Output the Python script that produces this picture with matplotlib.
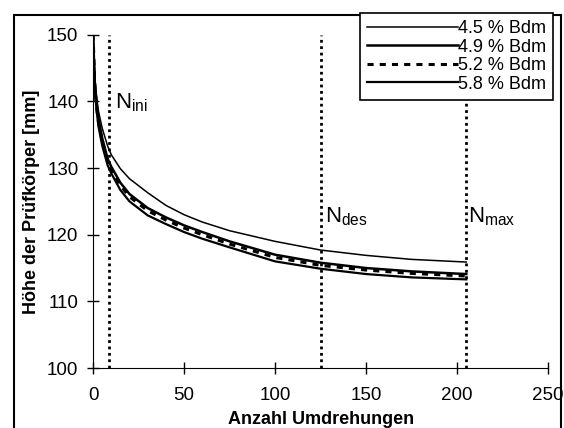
import matplotlib
matplotlib.use("Agg")
import matplotlib.pyplot as plt
from matplotlib.patches import Rectangle

plt.rcParams['font.family'] = ['Liberation Sans', 'DejaVu Sans']
plt.rcParams['mathtext.fontset'] = 'custom'
plt.rcParams['mathtext.rm'] = 'Liberation Sans'
plt.rcParams['mathtext.it'] = 'Liberation Sans'

# gyrations and specimen height per binder content
gyrations = [0, 1, 2, 3, 5, 8, 10, 15, 20, 30, 40, 50, 60, 75, 100, 125, 150, 175, 205]
h_45 = [150, 143.5, 140.5, 138.5, 136, 133.3, 132, 129.9, 128.4, 126.3, 124.4, 123.0,
        121.9, 120.6, 119.0, 117.7, 116.9, 116.3, 115.9]
h_49 = [150, 142.5, 139.5, 137.3, 134.5, 131.4, 130.2, 127.8, 126.1, 124.0, 122.6, 121.4,
        120.4, 119.0, 117.0, 115.8, 115.0, 114.5, 114.1]
h_52 = [150, 142, 139, 136.8, 134.1, 131.0, 129.8, 127.4, 125.7, 123.6, 122.2, 121.0,
        120.0, 118.6, 116.6, 115.4, 114.7, 114.2, 113.8]
h_58 = [150, 141.5, 138.5, 136.2, 133.4, 130.4, 129.2, 126.7, 125.0, 122.9, 121.6, 120.4,
        119.4, 118.1, 116.0, 114.9, 114.1, 113.6, 113.3]

n_ini, n_des, n_max = 9, 125, 205
x_ticks = [0, 50, 100, 150, 200, 250]
y_ticks = [100, 110, 120, 130, 140, 150]

fig = plt.figure(figsize=(5.64, 4.28), dpi=100)
ax = fig.add_axes([0.165, 0.140, 0.807, 0.779])

ax.plot(gyrations, h_45, color='black', lw=1.1, label='4.5 % Bdm')
ax.plot(gyrations, h_49, color='black', lw=1.8, label='4.9 % Bdm')
ax.plot(gyrations, h_52, color='black', lw=2.2, ls=(0, (2.0, 2.0)), label='5.2 % Bdm')
ax.plot(gyrations, h_58, color='black', lw=1.6, label='5.8 % Bdm')

for n in (n_ini, n_des, n_max):
    ax.plot([n, n], [100, 150], color='black', lw=2.0, ls=(0, (1.0, 1.3)))

ax.text(12, 139, r'N$_{\rm ini}$', fontsize=16)
ax.text(127.5, 121.9, r'N$_{\rm des}$', fontsize=16)
ax.text(206, 121.9, r'N$_{\rm max}$', fontsize=16)

ax.set_xlim(0, 250)
ax.set_ylim(100, 150)
ax.set_xticks(x_ticks)
ax.set_yticks(y_ticks)
ax.tick_params(direction='inout', length=9, width=1, labelsize=13.5, pad=6)
ax.tick_params(axis='x', pad=9)
ax.spines['top'].set_visible(False)
ax.spines['right'].set_visible(False)
ax.set_xlabel('Anzahl Umdrehungen', fontsize=13, fontweight='bold', labelpad=5)
ax.set_ylabel('Höhe der Prüfkörper [mm]', fontsize=13, fontweight='bold', labelpad=5)

# outer frame around the whole chart
fig.patches.append(Rectangle((14 / 564, -0.1), 547 / 564, 1.1 - 15 / 428,
                             transform=fig.transFigure, fill=False,
                             edgecolor='black', lw=1.5, zorder=0))

leg = fig.legend(loc='upper right', bbox_to_anchor=(553 / 564, 1 - 13 / 428),
                 borderaxespad=0, fontsize=13, handlelength=5.0, handletextpad=0.0,
                 labelspacing=0.08, borderpad=0.4, fancybox=False, framealpha=1)
leg.get_frame().set_edgecolor('black')
leg.get_frame().set_linewidth(1.2)

fig.savefig('out.png', dpi=100)
